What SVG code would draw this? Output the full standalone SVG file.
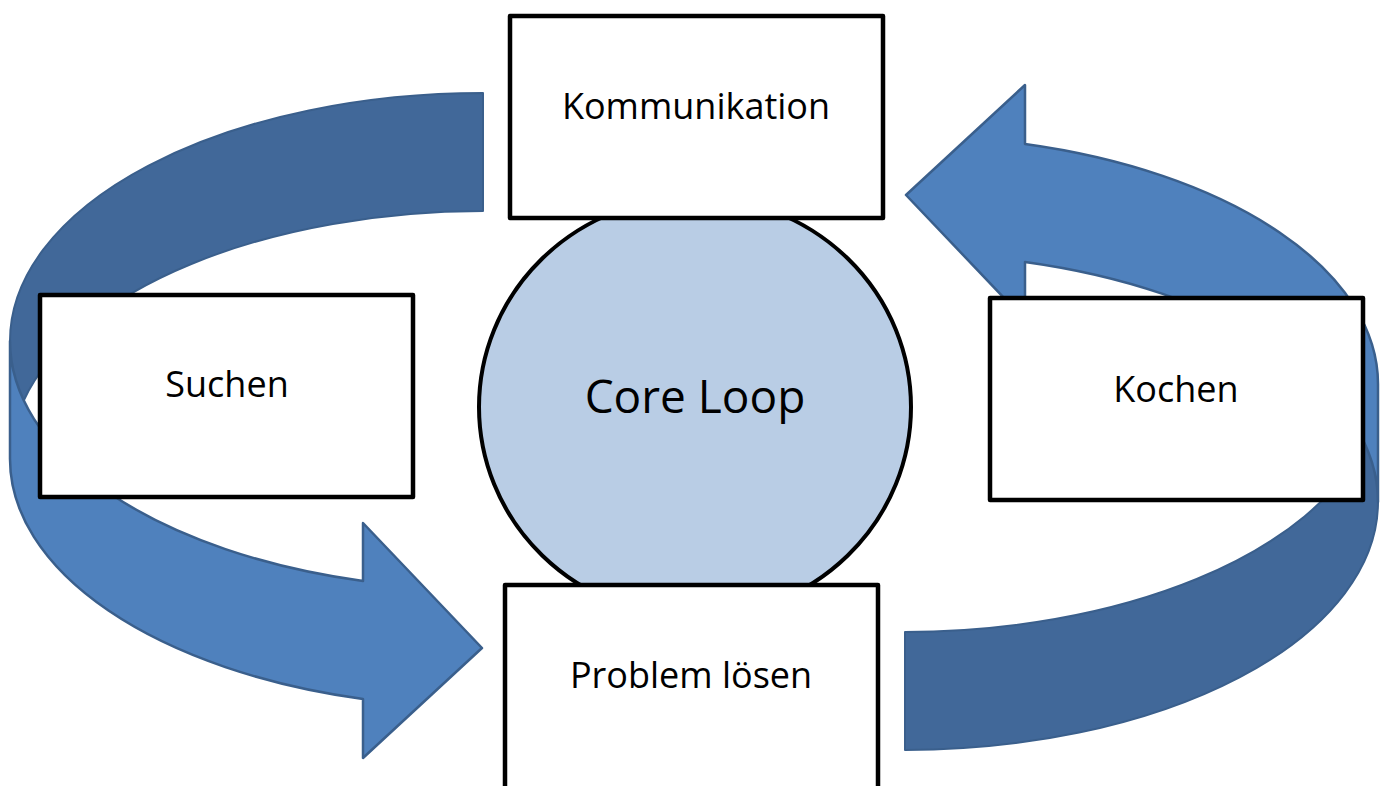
<svg xmlns="http://www.w3.org/2000/svg" width="1383" height="786" viewBox="0 0 1383 786">
  <style>
    .back { fill: #416899; stroke: #3A5F8C; stroke-width: 2; stroke-linejoin: round; }
    .front { fill: #4F81BD; stroke: #3A5F8C; stroke-width: 2.5; stroke-linejoin: round; }
    .box { fill: #FFFFFF; stroke: #000000; stroke-width: 4.5; stroke-linejoin: round; }
    .core { fill: #B9CDE5; stroke: #000000; stroke-width: 4; }
    .lbl { font-family: "Open Sans", "Liberation Sans", sans-serif; font-size: 36px; fill: #000000; text-anchor: middle; }
    .lbl-core { font-family: "Open Sans", "Liberation Sans", sans-serif; font-size: 46px; fill: #000000; text-anchor: middle; }
  </style>
  <defs>
    <g id="curved-arrow">
      <path class="back" d="M 483 93 A 473 248 0 0 0 10 341 L 10 400 L 24 400 A 473 248 0 0 1 483 211 Z"/>
      <path class="front" d="M 10 341 A 473 248 0 0 0 363 581 L 363 523 L 482 648 L 363 758 L 363 699 A 473 248 0 0 1 10 459 Z"/>
    </g>
  </defs>
  <rect width="1383" height="786" fill="#FFFFFF"/>
  <g id="connectors">
    <use href="#curved-arrow"/>
    <use href="#curved-arrow" transform="rotate(180 694 421.5)"/>
  </g>
  <g id="core-loop">
    <ellipse class="core" cx="695" cy="407" rx="216" ry="210"/>
    <text class="lbl-core" x="695" y="413">Core Loop</text>
  </g>
  <g id="kommunikation">
    <rect class="box" x="510" y="16" width="373" height="202"/>
    <text class="lbl" x="696" y="119">Kommunikation</text>
  </g>
  <g id="suchen">
    <rect class="box" x="40" y="295" width="373" height="202"/>
    <text class="lbl" x="227" y="397">Suchen</text>
  </g>
  <g id="kochen">
    <rect class="box" x="990" y="298" width="373" height="202"/>
    <text class="lbl" x="1176" y="402">Kochen</text>
  </g>
  <g id="problem-loesen">
    <rect class="box" x="505" y="585" width="373" height="230"/>
    <text class="lbl" x="691" y="688">Problem lösen</text>
  </g>
</svg>
